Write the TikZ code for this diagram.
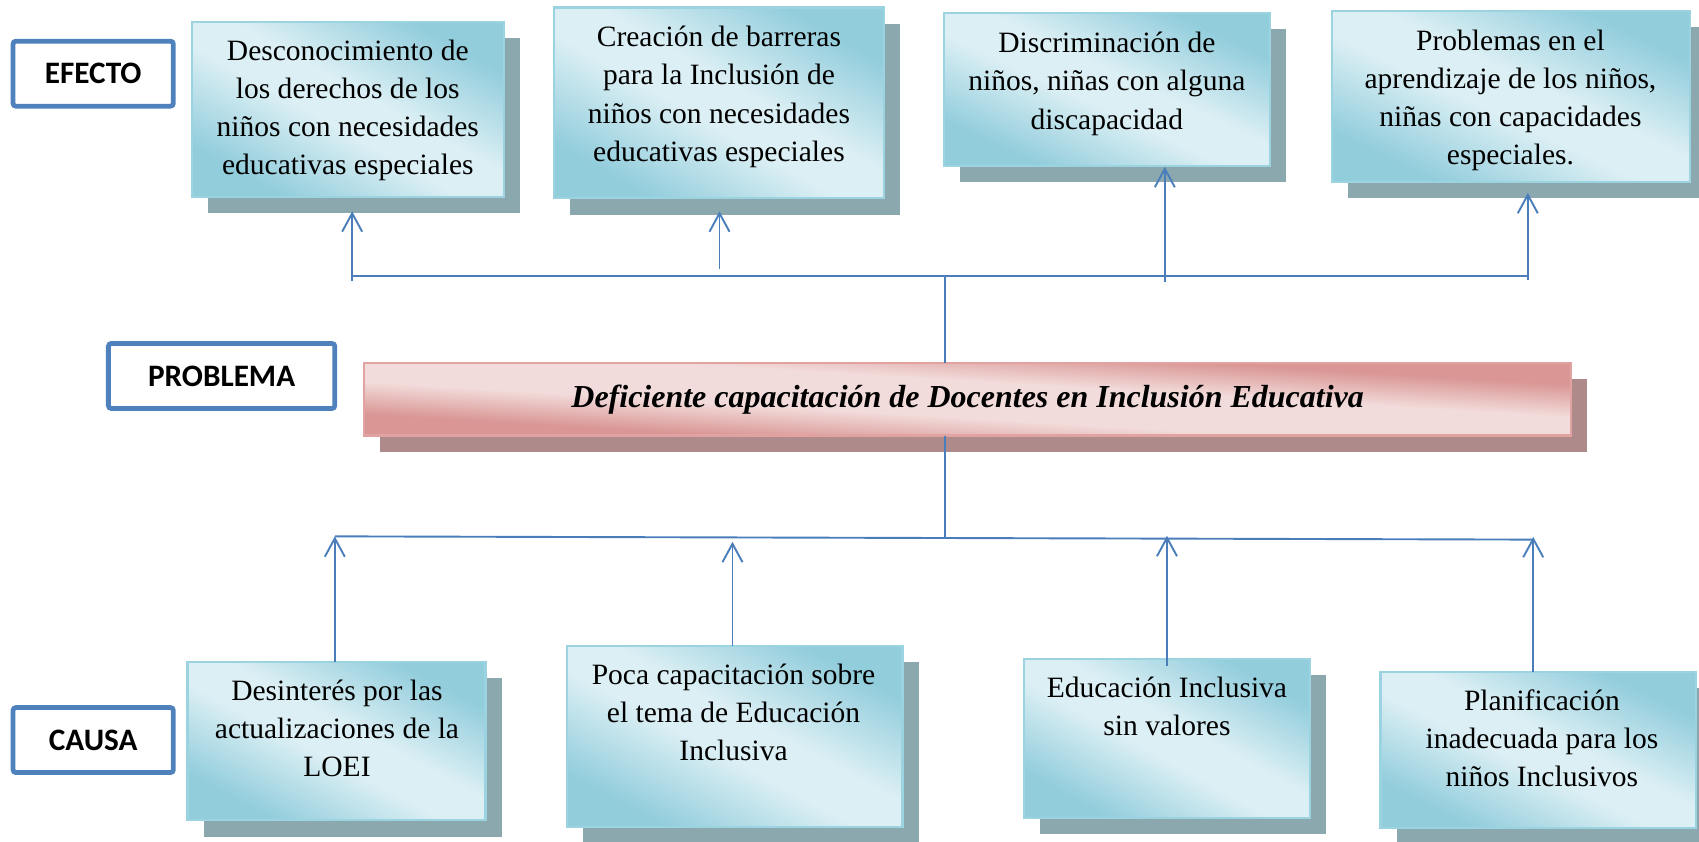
\documentclass[tikz,border=0pt]{standalone}
\usepackage{fontspec}
\setmainfont{Liberation Serif}
\newfontfamily\labfont{Carlito}
\usetikzlibrary{arrows.meta}
\definecolor{lineblue}{HTML}{4A7EBB}
\definecolor{labblue}{HTML}{4F81BD}
\definecolor{bdark}{HTML}{92CDDC}
\definecolor{blight}{HTML}{DBEFF4}
\definecolor{bborder}{HTML}{9BD3E1}
\definecolor{bshadow}{HTML}{8CA8AF}
\definecolor{pdark}{HTML}{D99694}
\definecolor{plight}{HTML}{F2DCDB}
\definecolor{pborder}{HTML}{E0A3A2}
\definecolor{pshadow}{HTML}{AE8B8A}
\pgfdeclareverticalshading{bshade}{100bp}{color(0bp)=(bdark); color(25bp)=(bdark);
  color(45bp)=(blight); color(55bp)=(blight); color(75bp)=(bdark); color(100bp)=(bdark)}
\pgfdeclareverticalshading{pshade}{100bp}{color(0bp)=(pdark); color(25bp)=(pdark);
  color(41bp)=(plight); color(59bp)=(plight); color(75bp)=(pdark); color(100bp)=(pdark)}
% #1 name, #2 cx, #3 cy, #4 width px, #5 height px, #6 colour prefix, #7 node options, #8 text
\newcommand\mygradbox[8]{%
  \fill[#6shadow] ({#2-#4/2+15},{#3-#5/2+15}) rectangle ({#2+#4/2+15},{#3+#5/2+15});
  \begin{scope}[transform canvas={shift={(#2,#3)}, xscale=#4/#5}]
    \shade[shading=#6shade, shading angle=-45]
      ({-#5/2},{-#5/2}) rectangle ({#5/2},{#5/2});
  \end{scope}
  \node[draw=#6border, line width=1.2pt, inner sep=0pt, outer sep=0pt,
    minimum width={#4*0.02cm}, minimum height={#5*0.02cm}, #7] (#1) at (#2,#3) {#8};
}
\begin{document}
\begin{tikzpicture}[x=0.02cm,y=-0.02cm,
  labbox/.style={draw=labblue, line width=2.5pt, fill=white, rounded corners=1.5pt,
    inner sep=0pt, minimum width=2.96cm, minimum height=1.2cm,
    font=\labfont\bfseries\fontsize{16.4pt}{19pt}\selectfont},
  txt/.style={align=center, inner sep=0pt, anchor=north,
    font=\fontsize{15.5pt}{20pt}\selectfont},
  probtxt/.style={font=\bfseries\itshape\fontsize{16.8pt}{20pt}\selectfont},
  conn/.style={draw=lineblue, line width=1pt},
  arr/.style={conn, -{Straight Barb[length=0.34cm, width=0.37cm]}}
]
\useasboundingbox (0,0) rectangle (1568,777);

% labels
\node[labbox] (lefecto) at (86,68) {EFECTO};
\node[labbox, minimum width=4.18cm] (lproblema) at (204.5,347) {PROBLEMA};
\node[labbox] (lcausa) at (86,683) {CAUSA};

% effect boxes
\mygradbox{e1}{321}{101}{288}{162}{b}{}{}
\mygradbox{e2}{663.5}{95}{305}{176}{b}{}{}
\mygradbox{e3}{1021.5}{82.5}{301}{141}{b}{}{}
\mygradbox{e4}{1394.5}{89}{331}{158}{b}{}{}
\node[txt] (e1t) at (321,36.8) {Desconocimiento de\\los derechos de los\\niños con necesidades\\educativas especiales};
\node[txt] (e2t) at (663.5,24) {Creación de barreras\\para la Inclusión de\\niños con necesidades\\educativas especiales};
\node[txt] (e3t) at (1021.5,29.5) {Discriminación de\\niños, niñas con alguna\\discapacidad};
\node[txt] (e4t) at (1394,27.5) {Problemas en el\\aprendizaje de los niños,\\niñas con capacidades\\especiales.};

% problem
\mygradbox{prob}{893}{368.5}{1114}{67}{p}{probtxt}{Deficiente capacitación de Docentes en Inclusión Educativa}

% cause boxes
\mygradbox{c1}{310.5}{684}{275}{146}{b}{}{}
\mygradbox{c2}{678}{679.5}{310}{167}{b}{}{}
\mygradbox{c3}{1077}{681.5}{264}{147}{b}{}{}
\mygradbox{c4}{1419.5}{692}{291}{144}{b}{}{}
\node[txt] (c1t) at (311,627.5) {Desinterés por las\\actualizaciones de la\\LOEI};
\node[txt] (c2t) at (677,612) {Poca capacitación sobre\\el tema de Educación\\Inclusiva};
\node[txt] (c3t) at (1077,624.5) {Educación Inclusiva\\sin valores};
\node[txt] (c4t) at (1423,636.5) {Planificación\\inadecuada para los\\niños Inclusivos};

% top connectors
\coordinate (tj) at (872,255);
\coordinate (tl) at (325,255);
\coordinate (tr) at (1410,255);
\coordinate (a1) at (325,259);
\coordinate (a2) at (664,248);
\coordinate (a3) at (1075,260);
\coordinate (a4) at (1410,258);
\draw[conn] (tl) -- (tr);
\draw[conn] (tj) -- (prob.north -| tj);
\draw[arr] (a1) -- ([yshift=-0.26cm]e1.south -| a1);
\draw[arr] (a2) -- ([yshift=-0.24cm]e2.south -| a2);
\draw[arr] (a3) -- ([yshift=-0.02cm]e3.south -| a3);
\draw[arr] (a4) -- ([yshift=-0.2cm]e4.south -| a4);

% bottom connectors
\coordinate (bj) at (872,496.3);
\coordinate (bl) at (309,495);
\coordinate (br) at (1415,498);
\coordinate (b2) at (676,500);
\coordinate (b3) at (1077,494.5);
\coordinate (b4) at (1415,495.5);
\draw[conn] (prob.south -| bj) -- (bj);
\draw[conn] (bl) -- (br);
\draw[arr] (c1.north -| bl) -- (bl);
\draw[arr] (c2.north -| b2) -- (b2);
\draw[arr] ([yshift=-0.14cm]c3.north -| b3) -- (b3);
\draw[arr] (c4.north -| b4) -- (b4);
\end{tikzpicture}
\end{document}
